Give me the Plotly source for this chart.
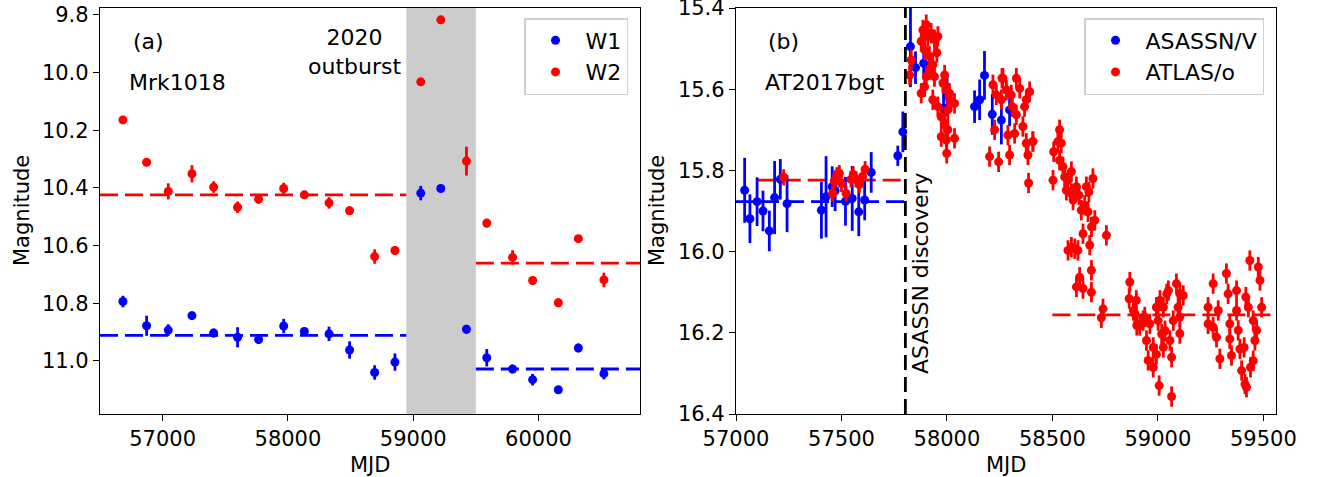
import plotly.graph_objects as go

# ---------------- Panel (a): Mrk1018 WISE ----------------
wise_mjd = [56683, 56872, 57045, 57234, 57407, 57598, 57766, 57966, 58131, 58328, 58492,
            58692, 58854, 59060, 59220, 59425, 59587, 59793, 59953, 60158, 60318, 60522]
w1_mag = [10.794, 10.878, 10.893, 10.843, 10.903, 10.918, 10.926, 10.879, 10.898, 10.906, 10.962,
          11.040, 11.004, 10.418, 10.402, 10.890, 10.989, 11.028, 11.065, 11.100, 10.955, 11.044]
w1_err = [0.02, 0.035, 0.02, 0.015, 0.015, 0.035, 0.015, 0.025, 0.015, 0.025, 0.03,
          0.025, 0.03, 0.025, 0.004, 0.015, 0.03, 0.015, 0.02, 0.004, 0.015, 0.02]
w2_mag = [10.164, 10.311, 10.412, 10.351, 10.397, 10.467, 10.439, 10.402, 10.424, 10.452, 10.479,
          10.638, 10.617, 10.032, 9.817, 10.307, 10.522, 10.641, 10.721, 10.798, 10.576, 10.719]
w2_err = [0.004, 0.008, 0.028, 0.03, 0.02, 0.02, 0.015, 0.02, 0.012, 0.02, 0.015,
          0.025, 0.015, 0.005, 0.012, 0.05, 0.015, 0.025, 0.015, 0.015, 0.012, 0.025]
outburst_span = [58945, 59500]
pre_span_a = [56500, 58945]
post_span_a = [59500, 60810]
w1_levels = [10.911, 11.028]   # pre, post
w2_levels = [10.424, 10.661]

# ---------------- Panel (b): AT2017bgt ----------------
asassn_mjd = [57041, 57066, 57100, 57128, 57158, 57183, 57210, 57242, 57405, 57427, 57456, 57470,
              57519, 57551, 57582, 57610, 57641, 57767, 57791, 57827, 57851, 57890, 57984, 58001,
              58131, 58155, 58178, 58215, 58258, 58297]
asassn_mag = [15.849, 15.919, 15.877, 15.900, 15.949, 15.867, 15.822, 15.882, 15.898, 15.865, 15.840, 15.850,
              15.876, 15.869, 15.902, 15.873, 15.805, 15.764, 15.705, 15.495, 15.547, 15.536, 15.647, 15.617,
              15.643, 15.626, 15.566, 15.662, 15.676, 15.651]
asassn_err = [0.08, 0.06, 0.06, 0.05, 0.05, 0.09, 0.05, 0.07, 0.07, 0.1, 0.05, 0.05,
              0.06, 0.08, 0.06, 0.05, 0.05, 0.025, 0.05, 0.1, 0.04, 0.04, 0.05, 0.05,
              0.04, 0.05, 0.06, 0.05, 0.06, 0.04]

atlas_mjd = [57226, 57458, 57466, 57478, 57490, 57500, 57522, 57545, 57556, 57568, 57585, 57600, 57612,
             57823, 57831, 57878, 57886, 57902, 57894, 57909, 57917, 57925, 57941, 57957, 57952,
             57878, 57894, 57902, 57917, 57933, 57941, 57933, 57957, 57973, 57981, 57989, 57997,
             58012, 58020, 58036, 58004, 57989, 57973, 58004, 57997, 58036, 57999,
             58218, 58261, 58329, 58282, 58305, 58345, 58392, 58376, 58234, 58258, 58310, 58329,
             58289, 58321, 58226, 58360, 58376, 58407, 58384, 58202, 58245, 58297, 58387, 58265, 58368,
             58408, 58534, 58526, 58542, 58506, 58503, 58534, 58550, 58558, 58574, 58590, 58566,
             58590, 58598, 58614, 58626, 58637, 58661, 58673, 58692, 58653, 58669, 58701, 58685,
             58645, 58677, 58756, 58574, 58590, 58606, 58621, 58685, 58629, 58614, 58645, 58685,
             58740, 58732, 58867, 58864, 58898, 58891, 58914, 58938,
             58884, 58900, 58930, 58946, 58954, 58978, 59006, 59065, 58993, 59001, 59010, 59026,
             59042, 59050, 59034, 59026, 58978, 58993, 59018, 59057, 59065, 59073, 59088, 59104,
             59120, 59096, 59104, 59104, 58962,
             59238, 59238, 59262, 59262, 59278, 59286, 59294, 59325, 59333, 59341, 59341, 59349,
             59373, 59373, 59381, 59389, 59397, 59413, 59417, 59429, 59420, 59436, 59439, 59452,
             59460, 59476, 59484, 59492, 59468, 59452, 59409]
atlas_mag = [15.817, 15.857, 15.826, 15.812, 15.807, 15.833, 15.857, 15.822, 15.810, 15.822, 15.835, 15.815, 15.797,
             15.565, 15.528, 15.482, 15.454, 15.441, 15.503, 15.470, 15.519, 15.462, 15.478, 15.470, 15.510,
             15.610, 15.594, 15.569, 15.552, 15.540, 15.569, 15.626, 15.643, 15.668, 15.585, 15.565, 15.602,
             15.610, 15.630, 15.635, 15.651, 15.684, 15.717, 15.700, 15.725, 15.721, 15.758,
             15.589, 15.573, 15.573, 15.602, 15.614, 15.598, 15.606, 15.626, 15.614, 15.626, 15.643, 15.663,
             15.713, 15.709, 15.700, 15.692, 15.733, 15.729, 15.762, 15.766, 15.779, 15.762, 15.831, 15.573, 15.643,
             15.729, 15.700, 15.729, 15.733, 15.754, 15.824, 15.775, 15.791, 15.816, 15.824, 15.803, 15.849,
             15.857, 15.873, 15.840, 15.861, 15.898, 15.840, 15.853, 15.820, 15.886, 15.902, 15.923, 15.939,
             15.956, 15.984, 15.960, 15.997, 15.989, 15.993, 15.997, 16.046, 16.063, 16.087, 16.091, 16.100,
             16.141, 16.163, 16.075, 16.116, 16.120, 16.153, 16.182, 16.161,
             16.145, 16.182, 16.170, 16.219, 16.268, 16.285, 16.330, 16.357, 16.137, 16.170, 16.120, 16.137,
             16.104, 16.096, 16.195, 16.236, 16.236, 16.253, 16.203, 16.219, 16.260, 16.170, 16.079, 16.104,
             16.108, 16.137, 16.161, 16.202, 16.178,
             16.137, 16.178, 16.079, 16.186, 16.211, 16.145, 16.264, 16.054, 16.104, 16.178, 16.215, 16.256,
             16.096, 16.145, 16.194, 16.240, 16.293, 16.326, 16.112, 16.137, 16.334, 16.022, 16.285, 16.170,
             16.219, 16.038, 16.071, 16.137, 16.194, 16.269, 16.236]
atlas_err = [0.02] * 13 + [0.025] * (len(atlas_mjd) - 13)
asassn_level = 15.877
atlas_pre_level = 15.824
atlas_post_level = 16.156
asassn_span = [57000, 57800]
atlas_pre_span = [57103, 57800]
atlas_post_span = [58500, 59560]
discovery_mjd = 57803

BLUE = "#0000ff"
RED = "#ff0000"
FONT = "DejaVu Sans"
FS = 21
FS_TXT = 22

fig = go.Figure()

def pts(x, y, e, color, name, xa, ya, legend):
    fig.add_trace(go.Scatter(
        x=x, y=y, mode="markers", name=name, xaxis=xa, yaxis=ya, legend=legend,
        marker=dict(color=color, size=9, line=dict(width=0)),
        error_y=dict(type="data", array=e, color=color, thickness=2.8, width=0)))

def hline(span, level, color, xa, ya):
    fig.add_trace(go.Scatter(
        x=span, y=[level, level], mode="lines", xaxis=xa, yaxis=ya, showlegend=False,
        line=dict(color=color, width=2.8, dash="18px,7px"), hoverinfo="skip"))

# panel a
hline(pre_span_a, w1_levels[0], BLUE, "x", "y")
hline(post_span_a, w1_levels[1], BLUE, "x", "y")
hline(pre_span_a, w2_levels[0], RED, "x", "y")
hline(post_span_a, w2_levels[1], RED, "x", "y")
pts(wise_mjd, w1_mag, w1_err, BLUE, "W1", "x", "y", "legend")
pts(wise_mjd, w2_mag, w2_err, RED, "W2", "x", "y", "legend")

# panel b
hline(asassn_span, asassn_level, BLUE, "x2", "y2")
hline(atlas_pre_span, atlas_pre_level, RED, "x2", "y2")
hline(atlas_post_span, atlas_post_level, RED, "x2", "y2")
pts(asassn_mjd, asassn_mag, asassn_err, BLUE, "ASASSN/V", "x2", "y2", "legend2")
pts(atlas_mjd, atlas_mag, atlas_err, RED, "ATLAS/o", "x2", "y2", "legend2")

fig.add_shape(type="rect", xref="x", yref="y domain", x0=outburst_span[0], x1=outburst_span[1],
              y0=0, y1=1, fillcolor="#cccccc", line=dict(width=0), layer="below")
fig.add_shape(type="line", xref="x2", yref="y2 domain", x0=discovery_mjd, x1=discovery_mjd,
              y0=0, y1=1, line=dict(color="black", width=2.8, dash="15px,7px"))

W, H = 1321, 477
axis_common = dict(showline=True, mirror=True, linecolor="black", linewidth=1.3,
                   ticks="outside", ticklen=6, tickwidth=1.3, tickcolor="black",
                   showgrid=False, zeroline=False, automargin=False,
                   ticklabeloverflow="allow",
                   tickfont=dict(family=FONT, size=FS, color="black"))

fig.update_layout(
    width=W, height=H, margin=dict(l=0, r=0, t=0, b=0),
    paper_bgcolor="white", plot_bgcolor="white",
    font=dict(family=FONT, size=FS, color="black"),
    xaxis=dict(domain=[100 / W, 640 / W], range=[56500, 60810], anchor="y",
               tickvals=[57000, 58000, 59000, 60000], tickformat="d", **axis_common),
    yaxis=dict(domain=[1 - 414 / H, 1 - 8 / H], range=[11.184, 9.776], anchor="x",
               tickvals=[9.8, 10.0, 10.2, 10.4, 10.6, 10.8, 11.0], tickformat=".1f", **axis_common),
    xaxis2=dict(domain=[736 / W, 1276 / W], range=[57000, 59560], anchor="y2",
                tickvals=[57000, 57500, 58000, 58500, 59000, 59500], tickformat="d", **axis_common),
    yaxis2=dict(domain=[1 - 414 / H, 1 - 8 / H], range=[16.4, 15.4], anchor="x2",
                tickvals=[15.4, 15.6, 15.8, 16.0, 16.2, 16.4], tickformat=".1f", **axis_common),
    legend=dict(x=628 / W, xanchor="right", y=1 - 18 / H, yanchor="top",
                bgcolor="white", bordercolor="#d0d0d0", borderwidth=1.5,
                font=dict(family=FONT, size=FS_TXT, color="black"), itemwidth=50),
    legend2=dict(x=1264 / W, xanchor="right", y=1 - 18 / H, yanchor="top",
                 bgcolor="white", bordercolor="#d0d0d0", borderwidth=1.5,
                 font=dict(family=FONT, size=FS_TXT, color="black"), itemwidth=50),
)

ann = dict(showarrow=False, xref="paper", yref="paper", xanchor="center", yanchor="middle")
txt_font = dict(family=FONT, size=FS_TXT, color="black")
ttl_font = dict(family=FONT, size=FS, color="black")
fig.add_annotation(text="(a)", x=148 / W, y=1 - 42 / H, font=txt_font, **ann)
fig.add_annotation(text="Mrk1018", x=177 / W, y=1 - 82 / H, font=txt_font, **ann)
fig.add_annotation(text="2020<br>outburst", x=354 / W, y=1 - 52 / H, font=txt_font, **ann)
fig.add_annotation(text="(b)", x=783 / W, y=1 - 42 / H, font=txt_font, **ann)
fig.add_annotation(text="AT2017bgt", x=825 / W, y=1 - 82 / H, font=txt_font, **ann)
fig.add_annotation(text="ASASSN discovery", x=920 / W, y=1 - 273 / H, textangle=-90, font=txt_font, **ann)
# axis titles
fig.add_annotation(text="Magnitude", x=22 / W, y=1 - 211 / H, textangle=-90, font=ttl_font, **ann)
fig.add_annotation(text="Magnitude", x=657 / W, y=1 - 211 / H, textangle=-90, font=ttl_font, **ann)
fig.add_annotation(text="MJD", x=370 / W, y=1 - 465 / H, font=ttl_font, **ann)
fig.add_annotation(text="MJD", x=1006 / W, y=1 - 465 / H, font=ttl_font, **ann)

fig.write_html("out.html", config={"displayModeBar": False},
               post_script="document.body.style.margin='0';document.body.style.overflow='hidden';")
